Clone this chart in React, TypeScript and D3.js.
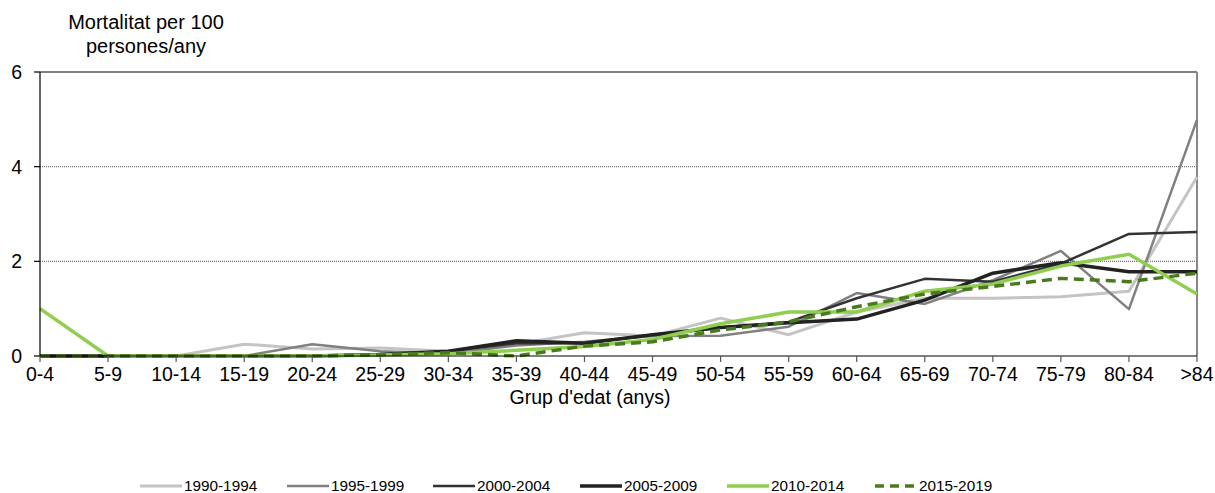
import React from "react";
import * as d3 from "d3";

const categories = ["0-4","5-9","10-14","15-19","20-24","25-29","30-34","35-39","40-44","45-49","50-54","55-59","60-64","65-69","70-74","75-79","80-84",">84"];
const s1990 = [0,0,0,0.25,0.15,0.17,0.1,0.25,0.49,0.42,0.8,0.45,0.93,1.22,1.22,1.25,1.37,3.78];
const s1995 = [0,0,0,0,0.25,0.1,0.05,0.22,0.3,0.42,0.43,0.62,1.33,1.1,1.6,2.22,0.99,4.99];
const s2000 = [0,0,0,0,0,0.03,0.1,0.27,0.27,0.45,0.6,0.72,1.22,1.63,1.57,1.95,2.58,2.62];
const s2005 = [0,0,0,0,0,0.03,0.1,0.32,0.27,0.45,0.6,0.7,0.78,1.18,1.75,1.97,1.78,1.78];
const s2010 = [1.0,0,0,0,0,0.02,0.05,0.12,0.2,0.35,0.68,0.93,0.93,1.37,1.52,1.9,2.15,1.31];
const s2015 = [0,0,0,0,0,0.03,0.07,0.0,0.21,0.3,0.55,0.72,1.04,1.31,1.47,1.64,1.57,1.75];
const yTicks = [0,2,4,6];

const series = [
  { name: "1990-1994", values: s1990, color: "#c4c4c4", width: 3, dash: "" },
  { name: "1995-1999", values: s1995, color: "#808080", width: 2.5, dash: "" },
  { name: "2000-2004", values: s2000, color: "#333333", width: 2.5, dash: "" },
  { name: "2005-2009", values: s2005, color: "#222222", width: 3.5, dash: "" },
  { name: "2010-2014", values: s2010, color: "#8fce4e", width: 3.5, dash: "" },
  { name: "2015-2019", values: s2015, color: "#4a7a1e", width: 3.5, dash: "10,6" },
];

export default function App() {
  const W = 1215, H = 493;
  const left = 40, right = 1197, top = 72, bottom = 356;
  const x = d3.scalePoint<string>().domain(categories).range([left, right]);
  const y = d3.scaleLinear().domain([0, 6]).range([bottom, top]);
  const line = d3.line<number>().x((_, i) => x(categories[i])!).y(d => y(d));
  const font = "Liberation Sans, Arial, sans-serif";
  const legendX = [140, 287, 433, 580, 727, 875];
  return (
    <svg width={W} height={H} style={{ position: "absolute", left: 0, top: 0 }} fontFamily={font}>
      <rect x={0} y={0} width={W} height={H} fill="#fff" />
      {yTicks.filter(t => t > 0 && t < 6).map(t => (
        <line key={t} x1={left} x2={right} y1={y(t)} y2={y(t)} stroke="#555" strokeWidth={1} strokeDasharray="1,1" />
      ))}
      <line x1={left} x2={right} y1={y(6)} y2={y(6)} stroke="#000" strokeWidth={1.2} />
      <line x1={right} x2={right} y1={top} y2={bottom} stroke="#888" strokeWidth={2} />
      {series.map(s => (
        <path key={s.name} d={line(s.values)!} fill="none" stroke={s.color} strokeWidth={s.width} strokeDasharray={s.dash || undefined} strokeLinejoin="round" />
      ))}
      <line x1={left} x2={left} y1={top} y2={bottom} stroke="#000" strokeWidth={1.2} />
      <line x1={left} x2={right} y1={bottom} y2={bottom} stroke="#000" strokeWidth={1.2} />
      {yTicks.map(t => (
        <g key={t}>
          <line x1={left - 6} x2={left} y1={y(t)} y2={y(t)} stroke="#000" strokeWidth={1.2} />
          <text x={22} y={y(t) + 7} textAnchor="end" fontSize={19.5} fill="#000">{t}</text>
        </g>
      ))}
      {categories.map(c => (
        <g key={c}>
          <line x1={x(c)!} x2={x(c)!} y1={bottom} y2={bottom + 6} stroke="#555" strokeWidth={1.2} />
          <text x={x(c)!} y={381} textAnchor="middle" fontSize={19.5} fill="#000">{c}</text>
        </g>
      ))}
      <text x={590} y={404} textAnchor="middle" fontSize={19.5} fill="#000">Grup d'edat (anys)</text>
      <text x={146} y={29} textAnchor="middle" fontSize={20} fill="#000">Mortalitat per 100</text>
      <text x={146} y={53} textAnchor="middle" fontSize={20} fill="#000">persones/any</text>
      {series.map((s, i) => (
        <g key={s.name}>
          <line x1={legendX[i]} x2={legendX[i] + 42} y1={486} y2={486} stroke={s.color} strokeWidth={s.width} strokeDasharray={s.dash ? "9,6" : undefined} />
          <text x={legendX[i] + 44} y={491} fontSize={15.3} fill="#000">{s.name}</text>
        </g>
      ))}
    </svg>
  );
}
